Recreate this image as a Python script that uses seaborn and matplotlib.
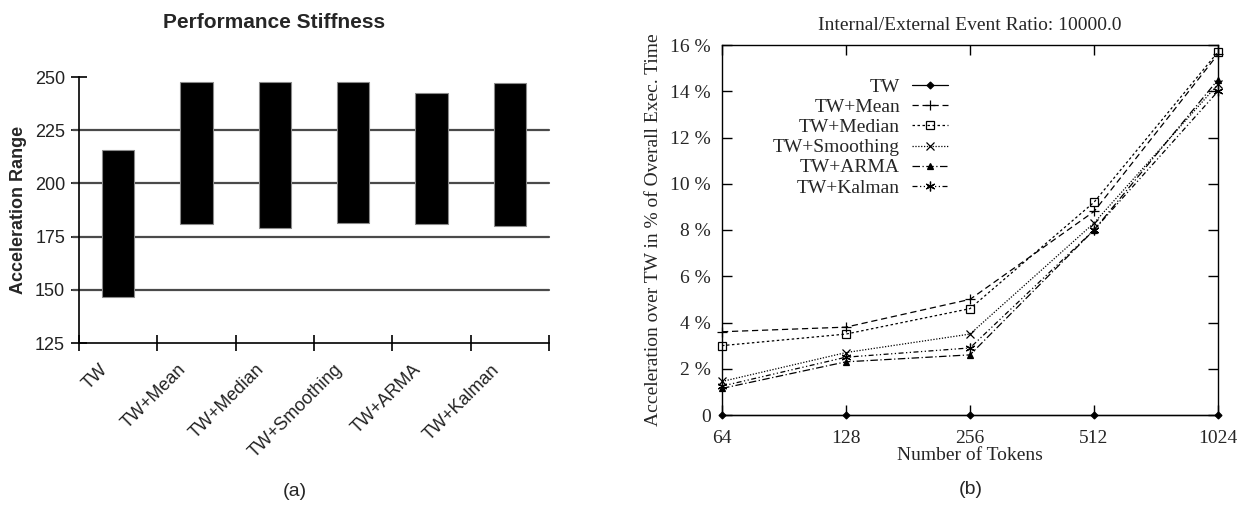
import numpy as np
import pandas as pd
import matplotlib
matplotlib.use("Agg")
import matplotlib.pyplot as plt
import seaborn as sns
from matplotlib.transforms import ScaledTranslation

# ---------------- data ----------------
methods = ["TW", "TW+Mean", "TW+Median", "TW+Smoothing", "TW+ARMA", "TW+Kalman"]
range_low = [146.5, 181.0, 179.0, 181.5, 181.0, 180.0]
range_high = [215.5, 247.5, 247.5, 247.5, 242.5, 247.0]
left_yticks = [125, 150, 175, 200, 225, 250]
grid_values = [150, 175, 200, 225]

tokens = [64, 128, 256, 512, 1024]
tw = [0.0, 0.0, 0.0, 0.0, 0.0]
tw_mean = [3.6, 3.8, 5.0, 8.8, 15.6]
tw_median = [3.0, 3.5, 4.6, 9.2, 15.7]
tw_smoothing = [1.45, 2.7, 3.5, 8.3, 14.3]
tw_arma = [1.15, 2.3, 2.6, 8.0, 14.5]
tw_kalman = [1.25, 2.5, 2.9, 8.0, 14.0]
series_names = ["TW", "TW+Mean", "TW+Median", "TW+Smoothing", "TW+ARMA", "TW+Kalman"]
right_yticks = [0, 2, 4, 6, 8, 10, 12, 14, 16]

# ---------------- figure ----------------
sns.set_theme(style="white")
W, H = 1246, 505
fig = plt.figure(figsize=(W / 100, H / 100), dpi=100)

SANS = ["Liberation Sans", "DejaVu Sans"]
SERIF = ["Liberation Serif", "DejaVu Serif"]

# ---------- left panel ----------
axL = fig.add_axes([79 / W, 1 - 343 / H, 470 / W, 266 / H])
df = pd.DataFrame({"method": methods, "high": range_high})
sns.barplot(data=df, x="method", y="high", color="black", saturation=1,
            width=0.41, edgecolor="#8a8a8a", linewidth=0.8, ax=axL, zorder=3)
for p, lo, hi in zip(axL.patches, range_low, range_high):
    p.set_y(lo)
    p.set_height(hi - lo)

for g in grid_values:
    axL.axhline(g, xmin=-0.013, xmax=1, color="#4a4a4a", lw=1.6, zorder=1, clip_on=False)

axL.set_xlim(-0.5, 5.5)
axL.set_ylim(125, 250)
axL.set_yticks(left_yticks)
axL.set_yticklabels([str(v) for v in left_yticks], fontsize=13, family=SANS, color="#222222")
axL.tick_params(axis="y", direction="inout", length=12, width=1.2, color="black", pad=4, left=True)

axL.set_xticks(np.arange(-0.5, 6.0, 1.0))
axL.set_xticklabels([])
axL.set_xticks(range(len(methods)), minor=True)
axL.set_xticklabels(methods, minor=True, rotation=45, ha="right", fontsize=13,
                    family=SANS, color="#222222")
axL.tick_params(axis="x", which="major", direction="inout", length=12, width=1.2,
                color="black", bottom=True)
axL.tick_params(axis="x", which="minor", length=0, pad=13)
for lbl in axL.get_xticklabels(minor=True):
    lbl.set_transform(lbl.get_transform() + ScaledTranslation(-7 / 100, 0, fig.dpi_scale_trans))

for s in ["top", "right"]:
    axL.spines[s].set_visible(False)
for s in ["left", "bottom"]:
    axL.spines[s].set_color("black")
    axL.spines[s].set_linewidth(1.2)
axL.set_xlabel("")
axL.set_ylabel("Acceleration Range", fontsize=13, fontweight="bold", family=SANS, labelpad=6)
axL.set_title("Performance Stiffness", fontsize=15, fontweight="bold", family=SANS,
              x=0.415, pad=35)

# ---------- right panel ----------
axR = fig.add_axes([722 / W, 1 - 415 / H, 496 / W, 370 / H])
styles = [
    ("D", "-", "black", 3.5),
    ("+", (0, (5, 3)), "black", 7),
    ("s", (0, (2, 2)), "none", 5.5),
    ("x", (0, (1, 1.3)), "black", 6),
    ("^", (0, (6, 2, 1, 2)), "black", 5),
    ((6, 2, 0), (0, (4, 2, 1, 2, 1, 2)), "black", 7),
]
all_series = [tw, tw_mean, tw_median, tw_smoothing, tw_arma, tw_kalman]
for name, vals, (mk, ls, fc, ms) in zip(series_names, all_series, styles):
    sns.lineplot(x=tokens, y=vals, ax=axR, color="black", linewidth=0.9,
                 marker=mk, markersize=ms, markerfacecolor=fc, markeredgecolor="black",
                 markeredgewidth=0.9, linestyle=ls, label=name, clip_on=False, zorder=3)

axR.set_xscale("log", base=2)
axR.set_xlim(64, 1024)
axR.set_ylim(0, 16)
axR.set_xticks(tokens)
axR.set_xticklabels([str(t) for t in tokens], fontsize=14, family=SERIF)
axR.xaxis.set_minor_locator(matplotlib.ticker.NullLocator())
axR.set_yticks(right_yticks)
axR.set_yticklabels(["0" if v == 0 else f"{v} %" for v in right_yticks], fontsize=14, family=SERIF)
axR.tick_params(axis="both", which="major", direction="in", length=7, width=1.0,
                color="black", top=True, right=True, bottom=True, left=True)
axR.tick_params(axis="x", pad=11)
axR.tick_params(axis="y", pad=8)
for s in axR.spines.values():
    s.set_color("black")
    s.set_linewidth(1.0)
axR.set_xlabel("Number of Tokens", fontsize=14, family=SERIF, labelpad=0)
axR.set_ylabel("Acceleration over TW in % of Overall Exec. Time", fontsize=14,
               family=SERIF, labelpad=6)
axR.set_title("Internal/External Event Ratio: 10000.0", fontsize=14, family=SERIF, pad=11)

leg = axR.legend(loc="upper right", bbox_to_anchor=(0.455, 0.91), frameon=False,
                 markerfirst=False, borderpad=0, borderaxespad=0, handlelength=1.85,
                 handletextpad=0.6, labelspacing=0.13, prop={"family": SERIF, "size": 14})

fig.text(295 / W, 1 - 492 / H, "(a)", ha="center", va="center", fontsize=14, family=SANS)
fig.text(971 / W, 1 - 490 / H, "(b)", ha="center", va="center", fontsize=14, family=SANS)

fig.savefig("out.png", dpi=100)
